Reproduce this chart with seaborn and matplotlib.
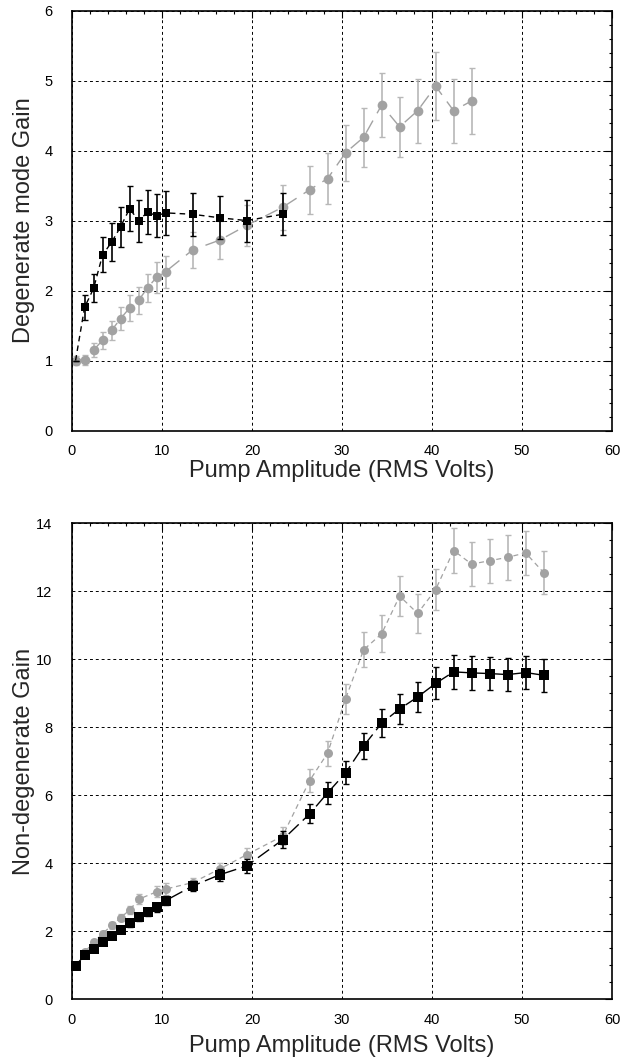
import numpy as np
import pandas as pd
import matplotlib
matplotlib.use("Agg")
import matplotlib.pyplot as plt
from matplotlib.ticker import MultipleLocator
import seaborn as sns

# --- data ---
# top panel: degenerate mode gain
top_x_black = [0.4, 1.4, 2.4, 3.4, 4.4, 5.4, 6.4, 7.4, 8.4, 9.4, 10.4, 13.4, 16.4, 19.4, 23.4]
top_y_black = [1.0, 1.76, 2.03, 2.51, 2.69, 2.91, 3.17, 3.0, 3.12, 3.07, 3.11, 3.09, 3.04, 3.0, 3.09]
top_e_black = [0.0, 0.18, 0.2, 0.25, 0.27, 0.29, 0.32, 0.3, 0.31, 0.31, 0.31, 0.31, 0.31, 0.3, 0.3]

top_x_gray = [0.4, 1.4, 2.4, 3.4, 4.4, 5.4, 6.4, 7.4, 8.4, 9.4, 10.4, 13.4, 16.4, 19.4, 23.4,
              26.4, 28.4, 30.4, 32.4, 34.4, 36.4, 38.4, 40.4, 42.4, 44.4]
top_y_gray = [1.0, 1.01, 1.15, 1.29, 1.43, 1.60, 1.75, 1.86, 2.04, 2.19, 2.27, 2.58, 2.72, 2.93, 3.19,
              3.44, 3.60, 3.97, 4.19, 4.65, 4.34, 4.57, 4.92, 4.57, 4.71]
top_e_gray = [0.06, 0.07, 0.1, 0.12, 0.14, 0.17, 0.19, 0.19, 0.2, 0.22, 0.23, 0.26, 0.27, 0.29, 0.32,
              0.34, 0.36, 0.4, 0.42, 0.46, 0.43, 0.46, 0.49, 0.46, 0.47]

# bottom panel: non-degenerate gain
bot_x_black = [0.4, 1.4, 2.4, 3.4, 4.4, 5.4, 6.4, 7.4, 8.4, 9.4, 10.4, 13.4, 16.4, 19.4, 23.4,
               26.4, 28.4, 30.4, 32.4, 34.4, 36.4, 38.4, 40.4, 42.4, 44.4, 46.4, 48.4, 50.4, 52.4]
bot_y_black = [0.99, 1.29, 1.49, 1.67, 1.87, 2.05, 2.23, 2.41, 2.57, 2.71, 2.90, 3.33, 3.66, 3.92, 4.69,
               5.45, 6.07, 6.66, 7.45, 8.12, 8.54, 8.89, 9.29, 9.63, 9.60, 9.58, 9.55, 9.61, 9.53]
bot_e_black = [0.05, 0.06, 0.07, 0.08, 0.09, 0.1, 0.1, 0.11, 0.12, 0.13, 0.14, 0.15, 0.17, 0.2, 0.25,
               0.28, 0.32, 0.34, 0.37, 0.41, 0.43, 0.44, 0.47, 0.49, 0.49, 0.49, 0.49, 0.48, 0.48]

bot_x_gray = [0.4, 1.4, 2.4, 3.4, 4.4, 5.4, 6.4, 7.4, 9.4, 10.4, 13.4, 16.4, 19.4, 23.4,
              26.4, 28.4, 30.4, 32.4, 34.4, 36.4, 38.4, 40.4, 42.4, 44.4, 46.4, 48.4, 50.4, 52.4]
bot_y_gray = [1.0, 1.39, 1.67, 1.93, 2.17, 2.40, 2.62, 2.94, 3.16, 3.24, 3.43, 3.83, 4.25, 4.80,
              6.43, 7.24, 8.84, 10.28, 10.75, 11.86, 11.35, 12.05, 13.2, 12.8, 12.9, 13.0, 13.13, 12.55]
bot_e_gray = [0.05, 0.06, 0.07, 0.08, 0.09, 0.1, 0.11, 0.15, 0.16, 0.17, 0.15, 0.17, 0.2, 0.27,
              0.33, 0.37, 0.44, 0.52, 0.54, 0.6, 0.57, 0.61, 0.66, 0.64, 0.65, 0.66, 0.65, 0.64]

GRAY = "#a2a2a2"
GRAY_ERR = "#b8b8b8"

sns.set_theme(style="white")
plt.rcParams['font.family'] = ['Liberation Sans', 'DejaVu Sans']
plt.rcParams['xtick.direction'] = 'in'
plt.rcParams['ytick.direction'] = 'in'


def style_axes(ax, ymax, ymajor, yminor, ylabel, xlab_y):
    ax.set_xlim(0, 60)
    ax.set_ylim(0, ymax)
    ax.xaxis.set_major_locator(MultipleLocator(10))
    ax.xaxis.set_minor_locator(MultipleLocator(2))
    ax.yaxis.set_major_locator(MultipleLocator(ymajor))
    ax.yaxis.set_minor_locator(MultipleLocator(yminor))
    ax.tick_params(which='both', top=True, right=True, direction='in', colors='black',
                   labelsize=10.5, width=0.8)
    ax.tick_params(which='major', length=5)
    ax.tick_params(which='minor', length=2.5)
    ax.tick_params(axis='x', which='major', pad=10)
    ax.tick_params(axis='y', which='major', pad=14)
    ax.grid(True, which='major', color='black', linestyle=(0, (3, 3)), linewidth=0.7)
    for s in ax.spines.values():
        s.set_color('black')
        s.set_linewidth(1.2)
    ax.set_xlabel("Pump Amplitude (RMS Volts)", fontsize=17)
    ax.set_ylabel(ylabel, fontsize=17)
    ax.xaxis.set_label_coords(0.5, xlab_y)
    ax.yaxis.set_label_coords(-0.068, 0.5)


def draw_series(ax, x, y, e, marker, color, ecolor, msize, dashes, lw, markevery=None, z=3):
    df = pd.DataFrame({"x": x, "y": y})
    ax.errorbar(x, y, yerr=e, fmt='none', ecolor=ecolor, elinewidth=1.2, capsize=2.5,
                capthick=1.0, zorder=z)
    sns.lineplot(data=df, x="x", y="y", ax=ax, sort=False, color=color, linewidth=lw,
                 marker=marker, markersize=msize, markeredgewidth=0, markerfacecolor=color,
                 markevery=markevery, zorder=z + 0.5, clip_on=False, errorbar=None)
    ax.lines[-1].set_dashes(dashes)


fig = plt.figure(figsize=(6.28, 10.63), dpi=100)
ax1 = fig.add_axes([0.1146, 0.595, 0.86, 0.395])
ax2 = fig.add_axes([0.1146, 0.060, 0.86, 0.4477])

# top panel
draw_series(ax1, top_x_black, top_y_black, top_e_black, 's', 'black', 'black', 5.5,
            (4, 3), 1.0, markevery=list(range(1, len(top_x_black))), z=3)
draw_series(ax1, top_x_gray, top_y_gray, top_e_gray, 'o', GRAY, GRAY_ERR, 7.0,
            (10, 6), 1.0, z=2)
style_axes(ax1, 6, 1, 0.2, "Degenerate mode Gain", -0.07)

# bottom panel
draw_series(ax2, bot_x_gray, bot_y_gray, bot_e_gray, 'o', GRAY, GRAY_ERR, 6.5,
            (4, 3), 0.9, z=2)
draw_series(ax2, bot_x_black, bot_y_black, bot_e_black, 's', 'black', 'black', 7.0,
            (10, 4), 1.0, z=3)
style_axes(ax2, 14, 2, 0.5, "Non-degenerate Gain", -0.075)

fig.savefig("out.png", dpi=100)
